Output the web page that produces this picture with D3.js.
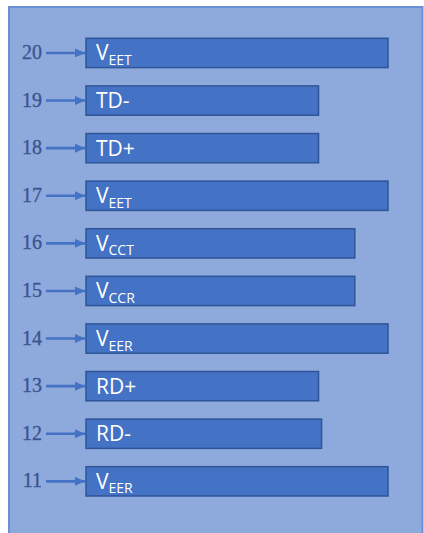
<!DOCTYPE html>
<html lang="en">
<head>
<meta charset="UTF-8">
<title>Pins</title>
<script src="https://d3js.org/d3.v7.min.js"></script>
<style>
  body {margin: 0; background: #fff;}
  .pin {font-family: "Liberation Serif", serif; font-size: 20px; fill: #3a5592; stroke: #3a5592; stroke-width: 0.35px;}
  .lbl {font-family: "Open Sans", "Liberation Sans", sans-serif; fill: #fff;}
</style>
</head>
<body>
<script>
  const width = 424;
  const height = 533;

  // pin numbers, top to bottom
  const pins = ["20", "19", "18", "17", "16", "15", "14", "13", "12", "11"];
  // signal name: main part and subscript
  const names = ["V", "TD-", "TD+", "V", "V", "V", "V", "RD+", "RD-", "V"];
  const subs  = ["EET", "", "", "EET", "CCT", "CCR", "EER", "", "", "EER"];
  // bar length (relative)
  const lengths = [100, 77, 77, 100, 89, 89, 100, 77, 78, 100];

  const svg = d3.select("body").append("svg")
      .attr("width", width).attr("height", height)
      .style("display", "block");

  svg.append("defs").append("marker").attr("id", "arr")
      .attr("viewBox", "0 0 10 10").attr("refX", 10).attr("refY", 5)
      .attr("markerWidth", 10).attr("markerHeight", 9)
      .attr("markerUnits", "userSpaceOnUse").attr("orient", "auto")
      .attr("preserveAspectRatio", "none")
    .append("path").attr("d", "M0,0 L10,5 L0,10 z").attr("fill", "#4472c4");

  // background panel
  svg.append("rect")
      .attr("x", 9).attr("y", 7).attr("width", 413.5).attr("height", 540)
      .attr("fill", "#8eaadc").attr("stroke", "#6b8fd6").attr("stroke-width", 2);

  const x = d3.scaleLinear().domain([0, 100]).range([86, 388]);
  const y = d3.scaleBand().domain(pins).range([38.3, 496]).paddingInner(0.384);

  const row = svg.selectAll("g.row")
      .data(pins)
      .join("g").attr("class", "row")
      .attr("transform", d => `translate(0,${y(d)})`);

  const mid = y.bandwidth() / 2;

  row.append("rect")
      .attr("x", x(0)).attr("y", 0)
      .attr("width", (d, i) => x(lengths[i]) - x(0))
      .attr("height", y.bandwidth())
      .attr("fill", "#4472c4").attr("stroke", "#2f5597").attr("stroke-width", 1.5);

  row.append("text").attr("class", "pin")
      .attr("x", 42).attr("y", mid + 6)
      .attr("text-anchor", "end")
      .text(d => d);

  row.append("line")
      .attr("x1", 46).attr("x2", 85)
      .attr("y1", mid).attr("y2", mid)
      .attr("stroke", "#4472c4").attr("stroke-width", 2.6)
      .attr("marker-end", "url(#arr)");

  const lbl = row.append("text").attr("class", "lbl")
      .attr("x", 96).attr("y", mid + 7.5);
  lbl.append("tspan").attr("font-size", 21).text((d, i) => names[i]);
  lbl.append("tspan").attr("font-size", 14).attr("dy", 4.5)
      .text((d, i) => subs[i]);
</script>
</body>
</html>
